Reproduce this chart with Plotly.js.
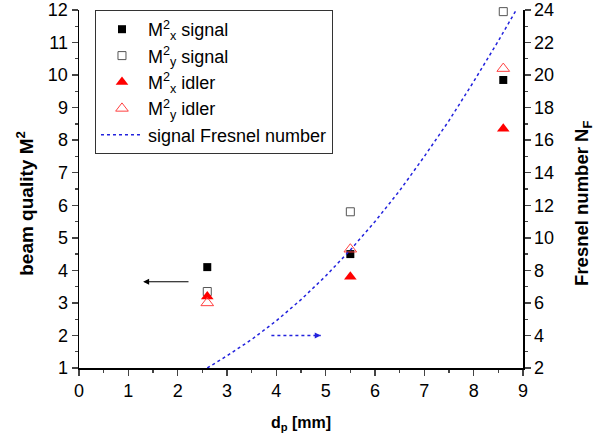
<!DOCTYPE html>
<html>
<head>
<meta charset="utf-8">
<script src="https://cdn.plot.ly/plotly-3.0.1.min.js"></script>
<style>body{margin:0;padding:0;background:#fff}#chart{width:613px;height:438px}</style>
</head>
<body>
<div id="chart"></div>
<script>
// data
var dp = [2.6, 5.5, 8.6];
var mxSignal = [4.1, 4.5, 9.85];
var mySignal = [3.35, 5.8, 11.95];
var mxIdler = [3.2, 3.8, 8.35];
var myIdler = [3.0, 4.65, 10.2];
var fresnelD = [2.6, 3.0, 3.5, 4.0, 4.5, 5.0, 5.5, 6.0, 6.5, 7.0, 7.5, 8.0, 8.5, 8.9];
var fresnelN = [2.0, 2.75, 3.75, 4.9, 6.2, 7.65, 9.25, 11.0, 12.9, 15.0, 17.2, 19.6, 22.1, 24.2];
// arrows (data coords): [tailX, headX, y]
var leftArrow = [2.25, 1.3, 3.65];
var rightArrowX = [3.9, 4.9];
var rightArrowY = [2.0, 2.0];
var leftTitle = '<b>beam quality M<sup>2</sup></b>';
var rightTitle = '<b>Fresnel number N<sub>F</sub></b>';
var xTitle = '<b>d<sub>p</sub> [mm]</b>';

var font = '"Liberation Sans", Arial, sans-serif';
var traces = [
  {x: dp, y: mxSignal, mode: 'markers', name: 'M<sup>2</sup><sub>x</sub> signal', cliponaxis: false,
   marker: {symbol: 'square', size: 8, color: '#000'}},
  {x: dp, y: mySignal, mode: 'markers', name: 'M<sup>2</sup><sub>y</sub> signal', cliponaxis: false,
   marker: {symbol: 'square-open', size: 8, color: '#555', line: {width: 1}}},
  {x: dp, y: mxIdler, mode: 'markers', name: 'M<sup>2</sup><sub>x</sub> idler', cliponaxis: false,
   marker: {symbol: 'triangle-up', size: 11, color: '#ff0000'}},
  {x: dp, y: myIdler, mode: 'markers', name: 'M<sup>2</sup><sub>y</sub> idler', cliponaxis: false,
   marker: {symbol: 'triangle-up-open', size: 11, color: '#ff4040', line: {width: 1}}},
  {x: fresnelD, y: fresnelN, mode: 'lines', name: 'signal Fresnel number', yaxis: 'y2',
   line: {color: '#2222dd', dash: 'dot', width: 1.5}},
  {x: rightArrowX, y: rightArrowY, mode: 'lines', showlegend: false, hoverinfo: 'skip',
   line: {color: '#2222dd', dash: 'dot', width: 1.5}}
];

var layout = {
  width: 613, height: 438,
  margin: {l: 79, r: 90, t: 10, b: 70},
  paper_bgcolor: '#fff', plot_bgcolor: '#fff',
  font: {family: font, size: 18, color: '#000'},
  showlegend: true,
  legend: {x: 0.036, y: 1.0, xanchor: 'left', yanchor: 'top', bgcolor: '#fff',
    bordercolor: '#333', borderwidth: 1, font: {family: font, size: 18},
    tracegroupgap: 0, itemwidth: 42},
  xaxis: {range: [0, 9], dtick: 1, showgrid: false, zeroline: false,
    showline: true, linecolor: '#000', linewidth: 1.5, ticks: 'outside', ticklen: 6, tickwidth: 1.5,
    minor: {dtick: 0.5, ticks: 'outside', ticklen: 3, tickwidth: 1.2, showgrid: false},
    tickfont: {size: 18},
    title: {text: xTitle, font: {size: 16}, standoff: 16}},
  yaxis: {range: [1, 12], dtick: 1, showgrid: false, zeroline: false,
    showline: true, linecolor: '#000', linewidth: 1.5, ticks: 'outside', ticklen: 6, tickwidth: 1.5,
    minor: {dtick: 0.5, ticks: 'outside', ticklen: 3, tickwidth: 1.2, showgrid: false},
    tickfont: {size: 18}},
  yaxis2: {range: [2, 24], dtick: 2, overlaying: 'y', side: 'right', showgrid: false, zeroline: false,
    showline: true, linecolor: '#000', linewidth: 1.5, ticks: 'outside', ticklen: 6, tickwidth: 1.5,
    minor: {dtick: 1, ticks: 'outside', ticklen: 3, tickwidth: 1.2, showgrid: false},
    tickfont: {size: 18}},
  annotations: [
    {x: leftArrow[1], y: leftArrow[2], ax: leftArrow[0], ay: leftArrow[2], xref: 'x', yref: 'y',
     axref: 'x', ayref: 'y', text: '', showarrow: true, arrowhead: 2, arrowsize: 1, arrowwidth: 1.2, arrowcolor: '#000'},
    {x: rightArrowX[1], y: rightArrowY[1], ax: rightArrowX[1] - 0.1, ay: rightArrowY[1], xref: 'x', yref: 'y',
     axref: 'x', ayref: 'y', text: '', showarrow: true, arrowhead: 2, arrowsize: 1, arrowwidth: 1.2, arrowcolor: '#2222dd'},
    {x: -0.122, y: 0.461, xref: 'paper', yref: 'paper', text: leftTitle, textangle: -90, showarrow: false,
     xanchor: 'center', yanchor: 'middle', font: {size: 19}},
    {x: 1.135, y: 0.461, xref: 'paper', yref: 'paper', text: rightTitle, textangle: -90, showarrow: false,
     xanchor: 'center', yanchor: 'middle', font: {size: 18.5}}
  ]
};
Plotly.newPlot('chart', traces, layout, {displayModeBar: false, staticPlot: true});
</script>
</body>
</html>
